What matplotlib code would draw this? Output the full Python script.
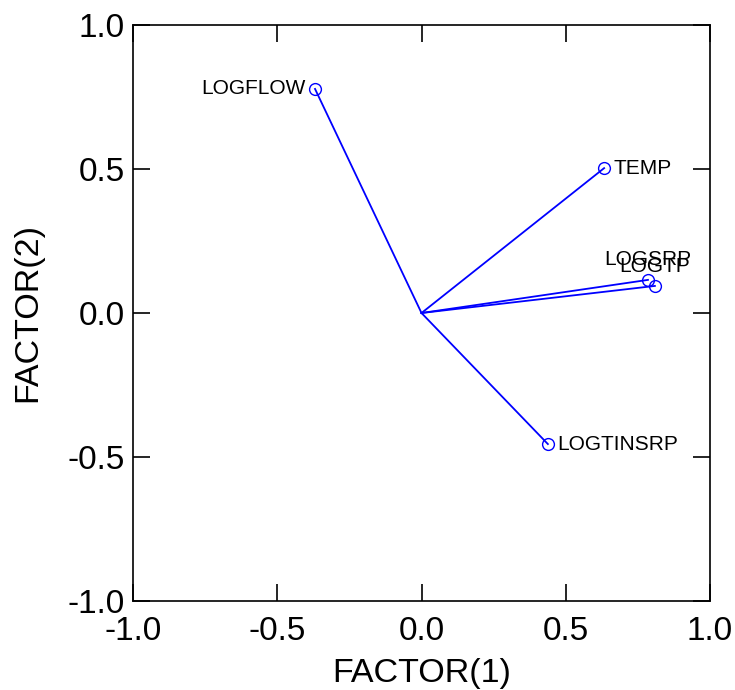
import matplotlib
matplotlib.use("Agg")
import matplotlib.pyplot as plt

plt.rcParams["font.family"] = ["Liberation Sans", "DejaVu Sans"]

names = ["LOGFLOW", "TEMP", "LOGSRP", "LOGTP", "LOGTINSRP"]
factor1 = [-0.369, 0.633, 0.785, 0.809, 0.438]
factor2 = [0.778, 0.503, 0.115, 0.094, -0.455]
# label placement relative to the point: (dx, dy in points, ha)
label_pos = {
    "LOGFLOW": (-7, 0, "right"),
    "TEMP": (7, 0, "left"),
    "LOGSRP": (0, 15, "center"),
    "LOGTP": (0, 14, "center"),
    "LOGTINSRP": (7, 0, "left"),
}
ticks = [-1.0, -0.5, 0.0, 0.5, 1.0]
tick_labels = ["-1.0", "-0.5", "0.0", "0.5", "1.0"]

fig = plt.figure(figsize=(7.35, 6.9), dpi=100)
ax = fig.add_axes([133 / 735, 89 / 690, 577 / 735, 576 / 690])

for x, y, n in zip(factor1, factor2, names):
    ax.plot([0, x], [0, y], color="#0000ff", lw=1.3)
    ax.plot(x, y, "o", mfc="none", mec="#0000ff", ms=8.5, mew=1.0)
    dx, dy, ha = label_pos[n]
    ax.annotate(n, (x, y), xytext=(dx, dy), textcoords="offset points",
                ha=ha, va="center", fontsize=15)

ax.set_xlim(-1, 1)
ax.set_ylim(-1, 1)
ax.set_xticks(ticks)
ax.set_xticklabels(tick_labels)
ax.set_yticks(ticks)
ax.set_yticklabels(tick_labels)
ax.tick_params(direction="in", length=12, width=1.2, labelsize=24,
               top=True, right=True, pad=6)
ax.tick_params(axis="x", pad=11)
for s in ax.spines.values():
    s.set_linewidth(1.2)
ax.set_xlabel("FACTOR(1)", fontsize=24.5, labelpad=8)
ax.set_ylabel("FACTOR(2)", fontsize=24.5, labelpad=17)

fig.savefig("out.png", dpi=100)
